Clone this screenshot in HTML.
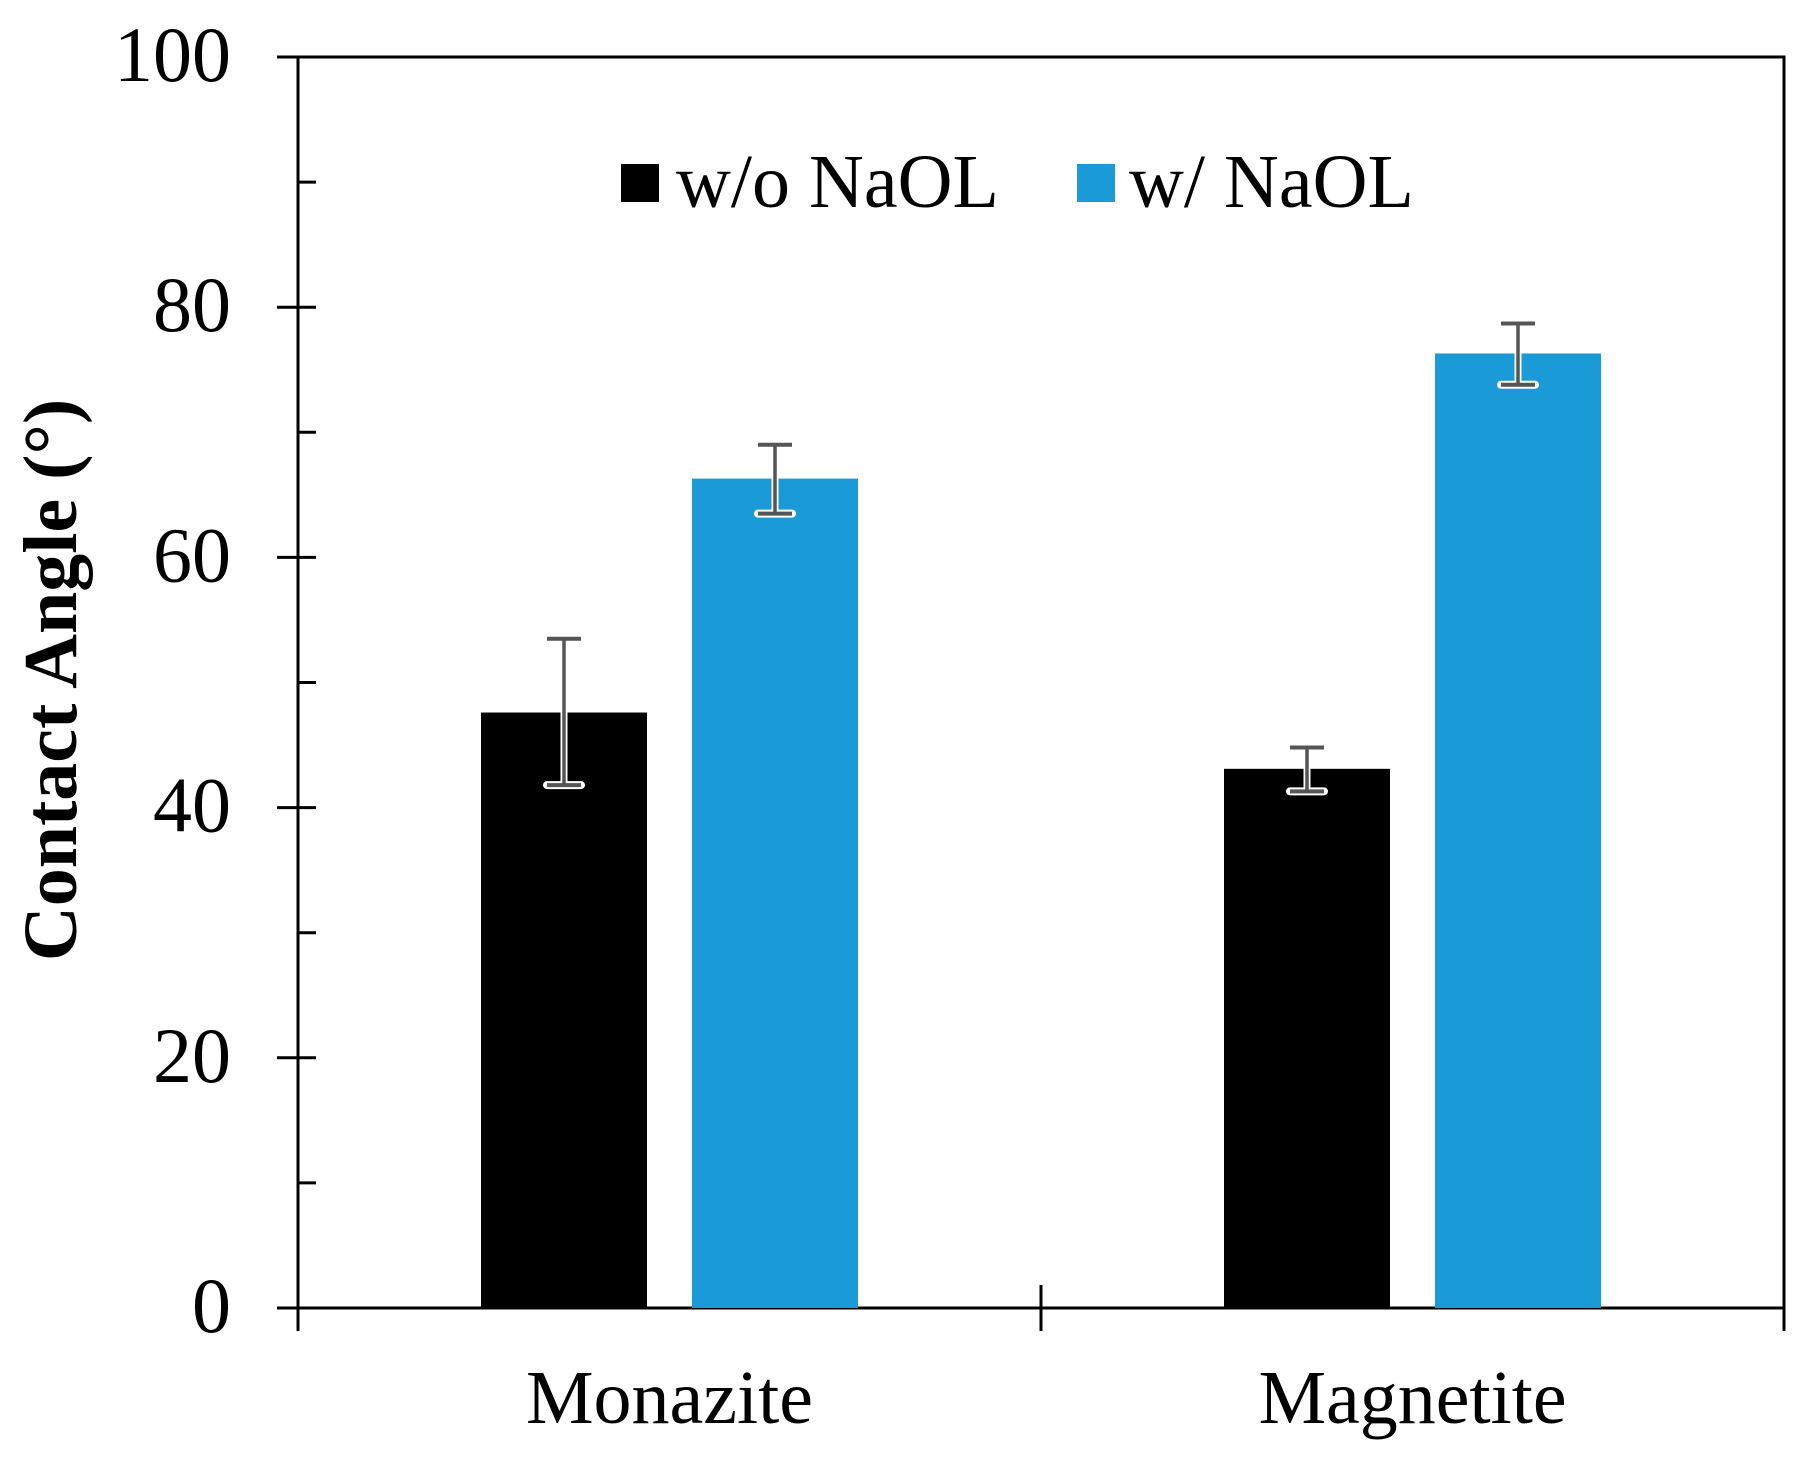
<!DOCTYPE html>
<html><head><meta charset="utf-8"><style>
html,body{margin:0;padding:0;background:#fff;}
svg{display:block;font-family:"Liberation Serif",serif;}
</style></head><body>
<svg id="chart" width="1807" height="1458" viewBox="0 0 1807 1458" xmlns="http://www.w3.org/2000/svg">
<g id="frame"></g>
<g id="bars"></g>
<g id="errs"></g>
<g id="yaxis"></g>
<text x="0" y="0" transform="translate(76,680) rotate(-90)" text-anchor="middle" font-weight="bold" font-size="76">Contact Angle (°)</text>
<g>
<rect x="621" y="164" width="38" height="38" fill="#000"/>
<text x="676" y="207" font-size="76">w/o NaOL</text>
<rect x="1077" y="164" width="38" height="38" fill="#1a9bd7"/>
<text x="1129" y="207" font-size="76">w/ NaOL</text>
</g>
<g id="xlabels"></g>
</svg>
<script>
const categories = ["Monazite", "Magnetite"];
const seriesWithout = [47.6, 43.1];
const seriesWith = [66.3, 76.3];
const errWithoutHigh = [53.5, 44.8];
const errWithoutLow = [41.8, 41.3];
const errWithHigh = [69.0, 78.7];
const errWithLow = [63.5, 73.8];
const yTicks = [0, 20, 40, 60, 80, 100];
const yMinor = [10, 30, 50, 70, 90];

const NS = "http://www.w3.org/2000/svg";
const X0 = 298, X1 = 1784, Y0 = 1308, Y100 = 57;
const y = v => Y0 - (v / 100) * (Y0 - Y100);
const catW = (X1 - X0) / categories.length;
const cx = i => X0 + catW * (i + 0.5);
const BW = 166, GAP = 45;
function mk(tag, attrs, parent) {
  const e = document.createElementNS(NS, tag);
  for (const k in attrs) e.setAttribute(k, attrs[k]);
  parent.appendChild(e); return e;
}
const frame = document.getElementById('frame');
const fr = mk('rect', {x: X0, y: Y100, width: X1 - X0, height: Y0 - Y100, fill: 'none', stroke: '#000', 'stroke-width': 3}, frame);



const bars = document.getElementById('bars');
const errs = document.getElementById('errs');
function drawErr(xc, lo, hi, name) {
  const g = mk('g', {}, errs);
  
  
  mk('line', {x1: xc, x2: xc, y1: y(hi), y2: y(lo), stroke: '#fff', 'stroke-width': 7}, g);
  mk('line', {x1: xc - 17, x2: xc + 17, y1: y(lo), y2: y(lo), stroke: '#fff', 'stroke-width': 8, 'stroke-linecap': 'round'}, g);
  mk('line', {x1: xc, x2: xc, y1: y(hi), y2: y(lo), stroke: '#555', 'stroke-width': 3.5}, g);
  mk('line', {x1: xc - 17, x2: xc + 17, y1: y(hi), y2: y(hi), stroke: '#555', 'stroke-width': 4}, g);
  mk('line', {x1: xc - 17, x2: xc + 17, y1: y(lo), y2: y(lo), stroke: '#555', 'stroke-width': 4}, g);
}
categories.forEach((c, i) => {
  const xa = cx(i) - GAP / 2 - BW, xb = cx(i) + GAP / 2;
  const r1 = mk('rect', {x: xa, y: y(seriesWithout[i]), width: BW, height: Y0 - y(seriesWithout[i]), fill: '#000'}, bars);
  
  
  const r2 = mk('rect', {x: xb, y: y(seriesWith[i]), width: BW, height: Y0 - y(seriesWith[i]), fill: '#1a9bd7'}, bars);
  
  
  drawErr(xa + BW / 2, errWithoutLow[i], errWithoutHigh[i], 'error-without-' + c.toLowerCase());
  drawErr(xb + BW / 2, errWithLow[i], errWithHigh[i], 'error-with-' + c.toLowerCase());
  const t = mk('text', {x: cx(i), y: 1423, 'text-anchor': 'middle', 'font-size': 76}, document.getElementById('xlabels'));
  t.textContent = c;
  
  
});
const ya = document.getElementById('yaxis');
yTicks.forEach(v => {
  const l = mk('line', {x1: 277, x2: 316, y1: y(v), y2: y(v), stroke: '#000', 'stroke-width': 3}, ya);
  
  
  const t = mk('text', {x: 231, y: y(v) + 24, 'text-anchor': 'end', 'font-size': 78}, ya);
  t.textContent = v;
  
  
});
yMinor.forEach(v => {
  const l = mk('line', {x1: X0, x2: 316, y1: y(v), y2: y(v), stroke: '#000', 'stroke-width': 3}, ya);
  
  
});
for (let i = 0; i <= categories.length; i++) {
  const xx = X0 + catW * i;
  const l = mk('line', {x1: xx, x2: xx, y1: i === 0 || i === categories.length ? Y0 : 1285, y2: 1331, stroke: '#000', 'stroke-width': 3}, ya);
  
  
}
</script>
</body></html>
